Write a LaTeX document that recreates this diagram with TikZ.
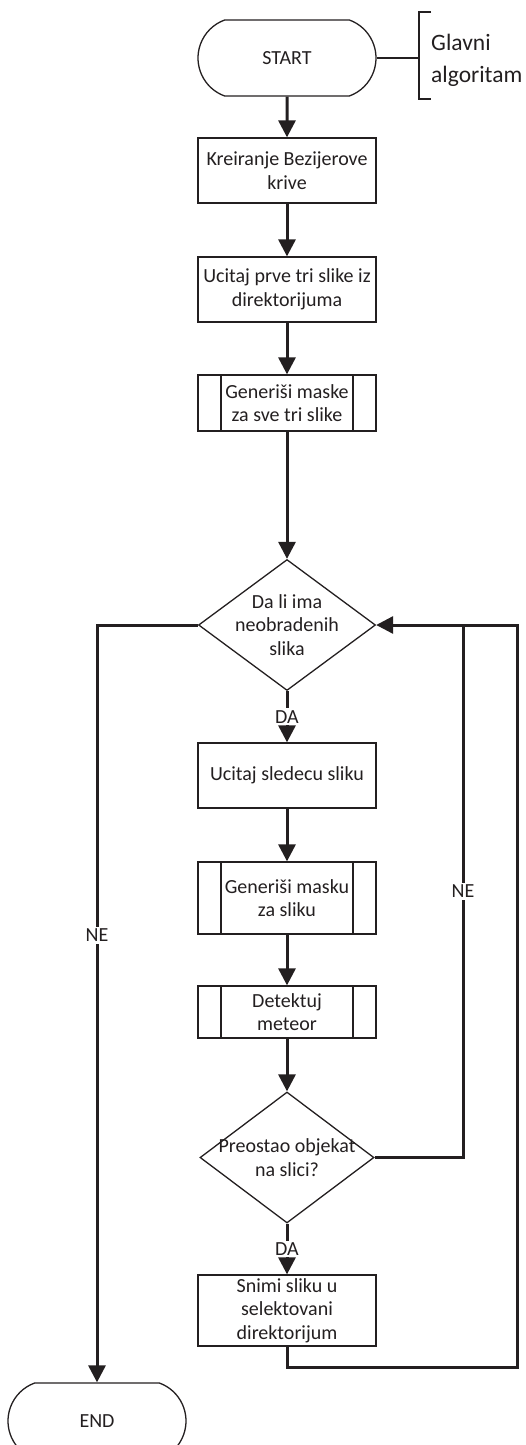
\documentclass[tikz,border=0pt]{standalone}
\usepackage{fontspec}
\setmainfont{Carlito}
\usetikzlibrary{shapes.misc,shapes.geometric,arrows.meta}
\definecolor{ink}{RGB}{35,31,32}
\begin{document}
\begin{tikzpicture}[x=1pt,y=-1pt,
  every node/.style={font=\fontsize{20}{23.5}\selectfont, align=center, text=ink},
  proc/.style={draw=ink, line width=1.3pt, minimum width=178pt, inner sep=0pt},
  sub/.style={proc, path picture={\draw[ink, line width=1.3pt]
      ([xshift=23pt]path picture bounding box.north west) -- ([xshift=23pt]path picture bounding box.south west)
      ([xshift=-23pt]path picture bounding box.north east) -- ([xshift=-23pt]path picture bounding box.south east);}},
  term/.style={draw=ink, rounded rectangle, rounded rectangle arc length=140, line width=1.3pt,
      minimum width=178pt, minimum height=76pt, inner sep=0pt},
  dec/.style={draw=ink, diamond, line width=1.3pt, minimum width=177pt, minimum height=131pt, inner sep=0pt},
  arr/.style={draw=ink, line width=3pt, -{Triangle[width=17pt,length=17pt]}},
  conn/.style={draw=ink, line width=3pt},
  lbl/.style={fill=white, inner sep=2pt},
  thinl/.style={draw=ink, line width=1.3pt}
]
\path[use as bounding box] (0,0) rectangle (525,1445);
\clip (0,0) rectangle (525,1445);

\node[term] (start) at (287,58) {START};
\node[proc, minimum height=65pt] (b1) at (287,170.5) {Kreiranje Bezijerove\\krive};
\node[proc, minimum height=65pt] (b2) at (287,289.5) {Ucitaj prve tri slike iz\\direktorijuma};
\node[sub, minimum height=56pt] (b3) at (287,403) {Generiši maske\\za sve tri slike};
\node[dec] (d1) at (287,625) {};
\node (d1t) at (d1) {Da li ima\\neobradenih\\slika};
\node[proc, minimum height=65pt] (b4) at (287,775.5) {Ucitaj sledecu sliku};
\node[sub, minimum height=72pt] (b5) at (287,898) {Generiši masku\\za sliku};
\node[sub, minimum height=52pt] (b6) at (287,1012) {Detektuj\\meteor};
\node[dec, minimum width=174pt] (d2) at (287,1157.5) {};
\node (d2t) at (d2) {Preostao objekat\\na slici?};
\node[proc, minimum height=71pt] (b7) at (287,1310.5) {Snimi sliku u\\selektovani\\direktorijum};
\node[term] (end) at (97,1421) {END};

% annotation
\coordinate (brk) at (419,58);
\coordinate (brkt) at (419,12);
\coordinate (brkb) at (419,99);
\draw[thinl] (start.east) -- (brk);
\draw[thinl] ([xshift=12pt]brkt) -- (brkt) -- (brkb) -- ([xshift=12pt]brkb);
\node[anchor=west, align=left, font=\fontsize{23.5}{32}\selectfont, inner sep=0pt] (gl) at (431,60) {Glavni\\algoritam};

% connectors
\draw[arr] (start) -- (b1);
\draw[arr] (b1) -- (b2);
\draw[arr] (b2) -- (b3);
\draw[arr] (b3) -- (d1.north);
\draw[arr] (d1.south) -- node[lbl] {DA} (b4.north);
\draw[arr] (b4) -- (b5);
\draw[arr] (b5) -- (b6);
\draw[arr] (b6) -- (d2.north);
\draw[arr] (d2.south) -- node[lbl] {DA} (b7.north);
\draw[arr] (d1.west) -| node[lbl, pos=0.705] {NE} (end.north);

\coordinate (r1) at (517,625);
\coordinate (j1) at (463,625);
\draw[arr] (b7.south) -- ++(0,21) -| (r1) -- (d1.east);
\draw[conn] (d2.east) -| node[lbl, pos=0.75] {NE} (j1);
\end{tikzpicture}
\end{document}
